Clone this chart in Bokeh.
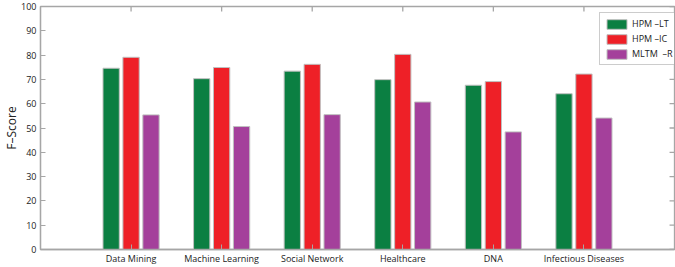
from bokeh.plotting import figure
from bokeh.models import (ColumnDataSource, FixedTicker, Range1d,
                          Legend, LegendItem)
from bokeh.embed import file_html
from bokeh.resources import INLINE

categories = ["Data Mining", "Machine Learning", "Social Network",
              "Healthcare", "DNA", "Infectious Diseases"]
hpm_lt = [74.6, 70.3, 73.4, 69.9, 67.6, 64.1]
hpm_ic = [79.1, 74.9, 76.2, 80.3, 69.1, 72.2]
mltm_r = [55.4, 50.6, 55.5, 60.7, 48.4, 54.1]
series_names = ["HPM \u2013LT", "HPM \u2013IC", "MLTM  \u2013R"]
series_colors = ["#0b7f42", "#ee2027", "#a4409b"]
y_ticks = [0, 10, 20, 30, 40, 50, 60, 70, 80, 90, 100]

FONT = "Open Sans"
AXIS_COLOR = "#a6a6a6"
X_MAX = 7
Y_MAX = 100

xpos = [i + 1 for i in range(len(categories))]

p = figure(width=675, height=267, output_backend="svg", toolbar_location=None,
           x_range=Range1d(0, X_MAX), y_range=Range1d(0, Y_MAX),
           min_border_left=35, min_border_right=1, min_border_top=6,
           min_border_bottom=12)
p.background_fill_color = "white"
p.border_fill_color = "white"
p.outline_line_color = AXIS_COLOR
p.outline_line_width = 1.3
p.grid.visible = False

offsets = [-0.22, 0.0, 0.22]
renderers = []
for vals, off, col in zip([hpm_lt, hpm_ic, mltm_r], offsets, series_colors):
    src = ColumnDataSource(dict(x=[x + off for x in xpos], top=vals))
    r = p.vbar(x="x", top="top", width=0.18, bottom=0, source=src,
               fill_color=col, line_color="#c0c0c0", line_width=1)
    renderers.append(r)

# ticks on the top and right edges (box style), drawn inward
tick_len_x = 5 * X_MAX / 639.0
tick_len_y = 5 * Y_MAX / 249.0
p.segment(x0=xpos, x1=xpos, y0=[Y_MAX] * len(xpos),
          y1=[Y_MAX - tick_len_y] * len(xpos),
          line_color=AXIS_COLOR, line_width=1.3)
p.segment(x0=[X_MAX] * len(y_ticks), x1=[X_MAX - tick_len_x] * len(y_ticks),
          y0=y_ticks, y1=y_ticks, line_color=AXIS_COLOR, line_width=1.3)

# axes
xa = p.xaxis[0]
xa.ticker = FixedTicker(ticks=xpos)
xa.major_label_overrides = {x: c for x, c in zip(xpos, categories)}
ya = p.yaxis[0]
ya.ticker = FixedTicker(ticks=y_ticks)
ya.axis_label = "F\u2013Score"
ya.axis_label_standoff = -2
ya.axis_label_text_font = FONT
ya.axis_label_text_font_size = "12px"
ya.axis_label_text_font_style = "normal"
ya.axis_label_text_color = "#222222"

for ax in (xa, ya):
    ax.axis_line_color = AXIS_COLOR
    ax.axis_line_width = 1.3
    ax.major_tick_line_color = AXIS_COLOR
    ax.major_tick_in = 5
    ax.major_tick_out = 0
    ax.minor_tick_line_color = None
    ax.major_label_text_font = FONT
    ax.major_label_text_font_size = "9px"
    ax.major_label_text_color = "#222222"
xa.major_label_standoff = 2
ya.major_label_standoff = 4

legend = Legend(items=[LegendItem(label=n, renderers=[r])
                       for n, r in zip(series_names, renderers)],
                location=(559, 184))
legend.glyph_width = 25
legend.glyph_height = 12
legend.label_text_font = FONT
legend.label_text_font_size = "9px"
legend.label_text_color = "#222222"
legend.label_standoff = 3
legend.label_height = 12
legend.spacing = 2
legend.padding = 4
legend.margin = 0
legend.border_line_color = "#9a9a9a"
legend.border_line_width = 1
legend.background_fill_alpha = 1
p.add_layout(legend, "center")

open("out.html", "w").write(file_html(p, INLINE))
